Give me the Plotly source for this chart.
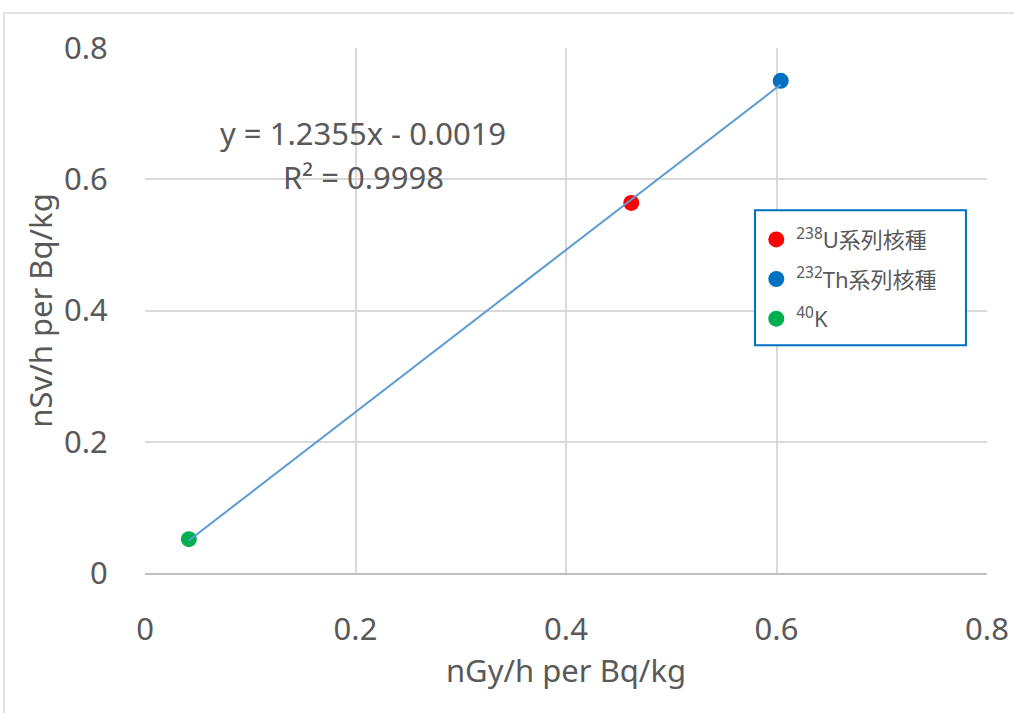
import plotly.graph_objects as go

# Dose conversion coefficients per nuclide series
nuclides = ["<sup>238</sup>U系列核種", "<sup>232</sup>Th系列核種", "<sup>40</sup>K"]
gy_per_bq = [0.462, 0.604, 0.0417]
sv_per_bq = [0.564, 0.750, 0.0516]
colors = ["#FF0000", "#0070C0", "#00B050"]

# Linear fit shown on the chart
slope = 1.2355
intercept = -0.0019
r_squared = 0.9998

x_ticks = [0, 0.2, 0.4, 0.6, 0.8]
y_ticks = [0, 0.2, 0.4, 0.6, 0.8]

FONT = "Noto Sans, Noto Sans CJK JP, sans-serif"
TEXT = "#595959"

fig = go.Figure()

for i, (name, gx, sy, c) in enumerate(zip(nuclides, gy_per_bq, sv_per_bq, colors)):
    fig.add_trace(go.Scatter(
        x=[gx], y=[sy], mode="markers", name=name, legendgroup=f"g{i}",
        marker=dict(color=c, size=16),
    ))

x_lo, x_hi = min(gy_per_bq), max(gy_per_bq)
fig.add_trace(go.Scatter(
    x=[x_lo, x_hi],
    y=[slope * x_lo + intercept, slope * x_hi + intercept],
    mode="lines",
    line=dict(color="#5B9BD5", width=2),
    showlegend=False,
    hoverinfo="skip",
))

# Trendline equation and goodness of fit
fig.add_annotation(
    x=0.207, y=0.6705, xref="x", yref="y",
    text=f"y = {slope}x - {abs(intercept)}",
    showarrow=False,
    font=dict(family=FONT, size=31, color=TEXT),
)
fig.add_annotation(
    x=0.208, y=0.6034, xref="x", yref="y",
    text=f"R² = {r_squared}",
    showarrow=False,
    font=dict(family=FONT, size=31, color=TEXT),
)

# Outer chart frame
fig.add_shape(type="rect", xref="paper", yref="paper",
              x0=-0.1675, x1=1.04, y0=-0.30, y1=1.0667,
              line=dict(color="#D9D9D9", width=1.5), layer="below")

# Legend frame
fig.add_shape(type="rect", xref="paper", yref="paper",
              x0=0.7245, x1=0.975, y0=0.434, y1=0.691,
              line=dict(color="#0070C0", width=2), fillcolor="white", layer="above")

fig.update_layout(
    width=1014, height=713,
    margin=dict(l=145, r=27, t=48, b=140),
    paper_bgcolor="white", plot_bgcolor="white",
    font=dict(family=FONT, color=TEXT),
    legend=dict(
        x=0.726, y=0.675, xanchor="left", yanchor="top",
        bgcolor="rgba(0,0,0,0)", borderwidth=0,
        font=dict(family=FONT, size=22, color=TEXT),
        tracegroupgap=8, itemsizing="trace", itemwidth=30,
    ),
    xaxis=dict(
        range=[0, 0.8], tickvals=x_ticks, ticktext=[f"{v:g}" for v in x_ticks],
        showgrid=True, gridcolor="#D9D9D9", gridwidth=1.5,
        showline=True, linecolor="#BFBFBF", linewidth=1.5,
        zeroline=False, ticks="outside", ticklen=0,
        ticklabelstandoff=28, automargin=False,
        tickfont=dict(size=31, color=TEXT),
        title=dict(text="nGy/h per Bq/kg", font=dict(size=31, color=TEXT), standoff=10),
    ),
    yaxis=dict(
        range=[0, 0.8], tickvals=y_ticks, ticktext=[f"{v:g}" for v in y_ticks],
        showgrid=True, gridcolor="#D9D9D9", gridwidth=1.5,
        zeroline=False, ticks="outside", ticklen=0,
        ticklabelstandoff=30, automargin=False,
        tickfont=dict(size=31, color=TEXT),
        title=dict(text="nSv/h per Bq/kg", font=dict(size=31, color=TEXT), standoff=2),
    ),
)

fig.write_html("out.html")
